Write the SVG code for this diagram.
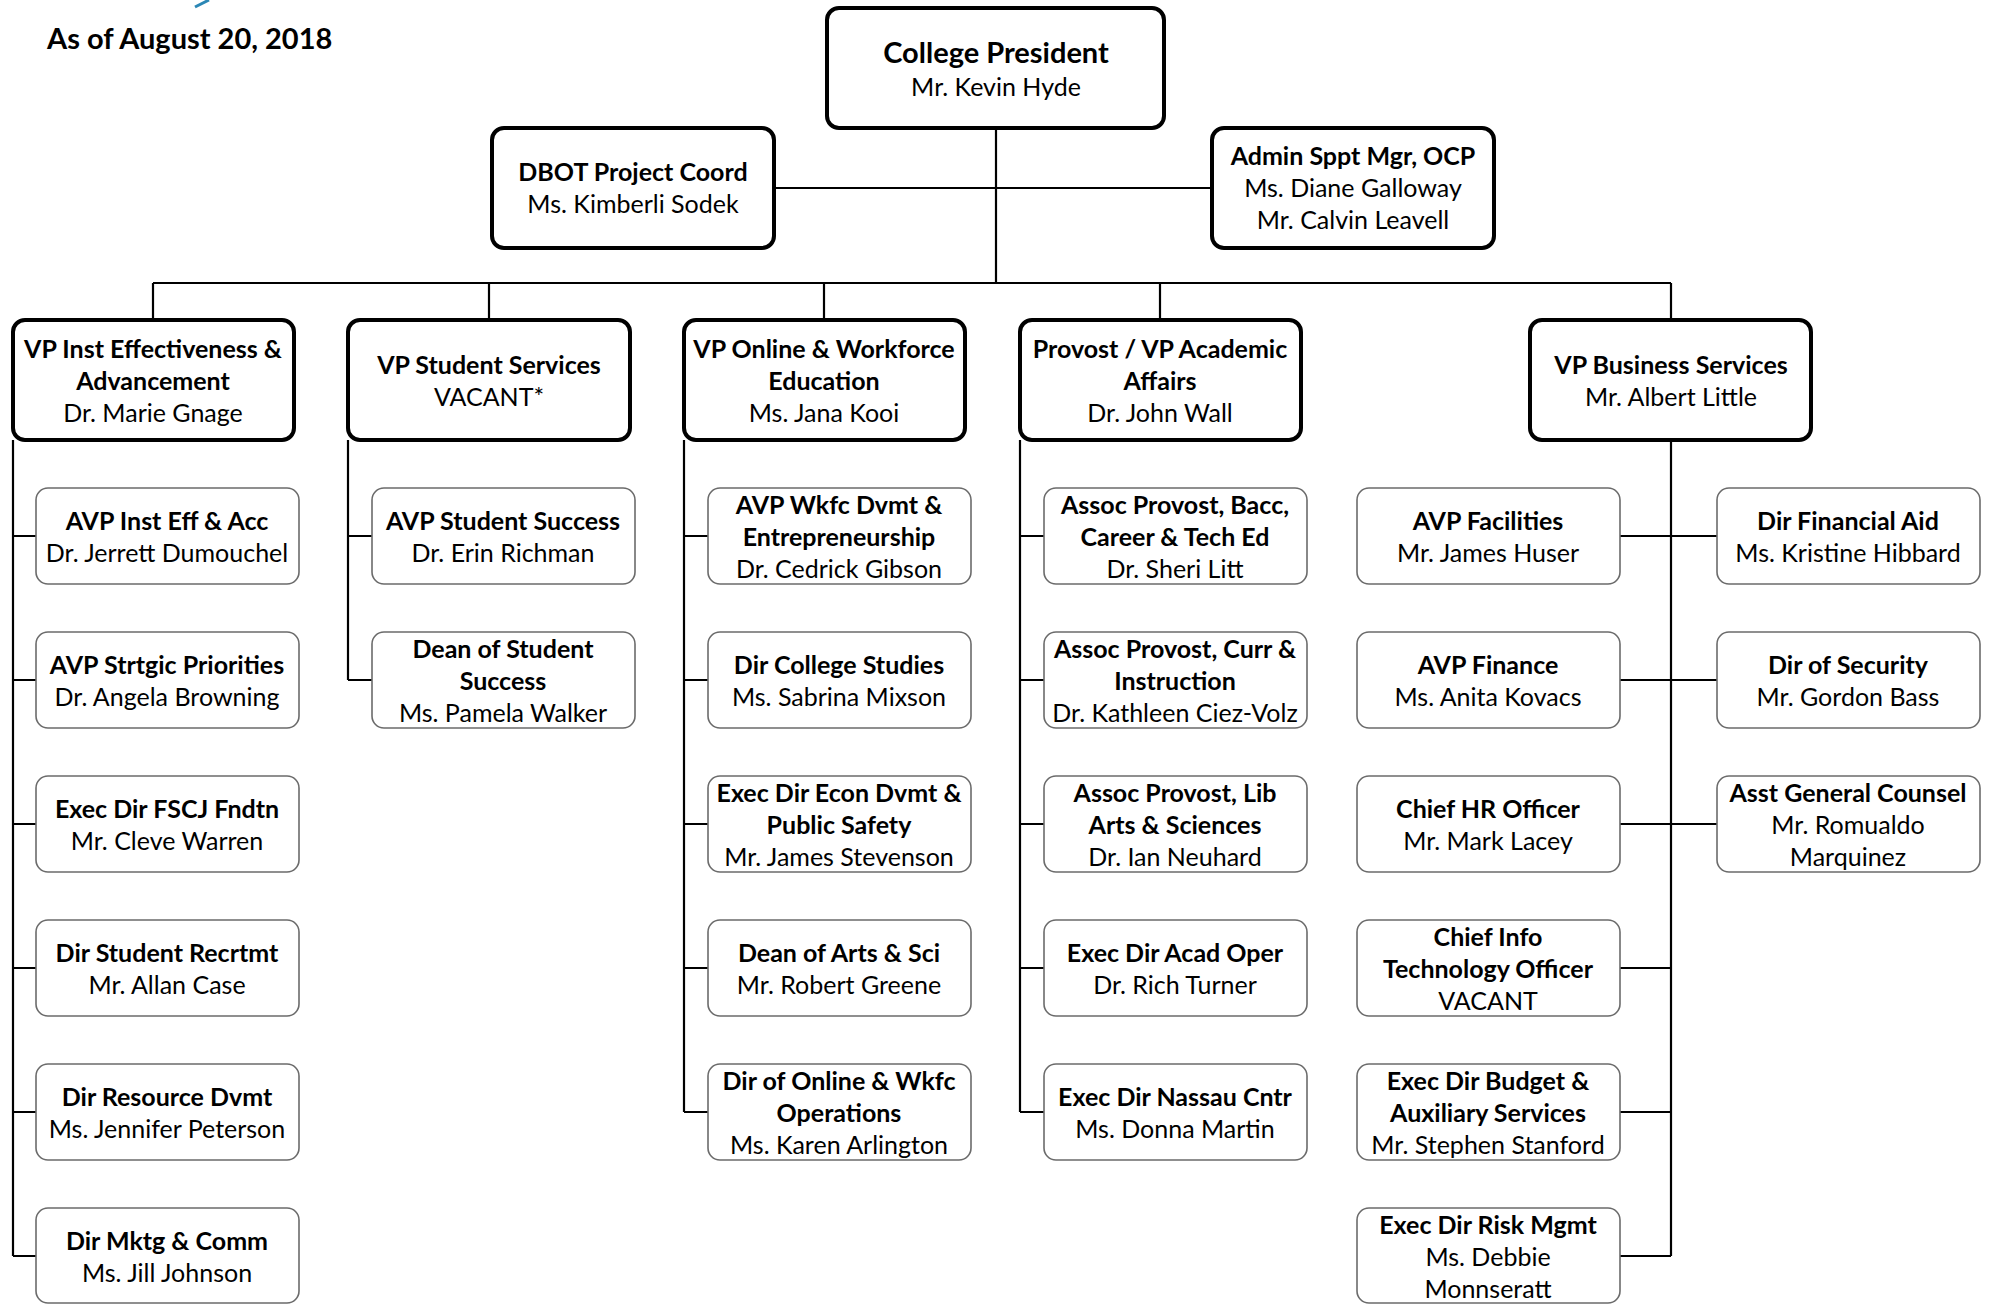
<svg xmlns="http://www.w3.org/2000/svg" width="1989" height="1304" viewBox="0 0 1989 1304">
<style>
.bg{fill:#fff}
.top{fill:#fff;stroke:#000;stroke-width:4}
.kid{fill:#fff;stroke:#6b6b6b;stroke-width:1.6}
.t{font-family:Lato,"Open Sans","Liberation Sans",sans-serif;font-size:25px;text-anchor:middle;fill:#000}
.b{font-weight:700}
.big{font-size:29px}
.ttl{font-family:Lato,"Open Sans","Liberation Sans",sans-serif;font-size:29px;font-weight:700;fill:#000}
.ln{stroke:#000;stroke-width:2.2;fill:none}
</style>
<rect class="bg" x="0" y="0" width="1989" height="1304"/>
<path d="M195 7 L209 0" stroke="#2b87b5" stroke-width="3" fill="none"/>
<text class="ttl" x="47" y="49">As of August 20, 2018</text>

<g id="connectors">
<path class="ln" d="M996 128 V283 M774 188 H1212 M153 283 H1671 M153 283 V320 M489 283 V320 M824 283 V320 M1160 283 V320 M1671 283 V320"/>
<path class="ln" d="M13 440 V1256 M13 536 H36 M13 680 H36 M13 824 H36 M13 968 H36 M13 1112 H36 M13 1256 H36"/>
<path class="ln" d="M348 440 V680 M348 536 H372 M348 680 H372"/>
<path class="ln" d="M684 440 V1112 M684 536 H708 M684 680 H708 M684 824 H708 M684 968 H708 M684 1112 H708"/>
<path class="ln" d="M1020 440 V1112 M1020 536 H1044 M1020 680 H1044 M1020 824 H1044 M1020 968 H1044 M1020 1112 H1044"/>
<path class="ln" d="M1671 440 V1256 M1620 536 H1717 M1620 680 H1717 M1620 824 H1717 M1620 968 H1671 M1620 1112 H1671 M1620 1256 H1671"/>
</g>

<g id="president"><rect class="top" x="827" y="8" width="337" height="120" rx="12"/>
<text class="t b big" x="996" y="63">College President</text>
<text class="t" x="996" y="96">Mr. Kevin Hyde</text></g>

<g id="dbot"><rect class="top" x="492" y="128" width="282" height="120" rx="12"/>
<text class="t b" x="633" y="181">DBOT Project Coord</text>
<text class="t" x="633" y="213">Ms. Kimberli Sodek</text></g>

<g id="admin"><rect class="top" x="1212" y="128" width="282" height="120" rx="12"/>
<text class="t b" x="1353" y="165">Admin Sppt Mgr, OCP</text>
<text class="t" x="1353" y="197">Ms. Diane Galloway</text>
<text class="t" x="1353" y="229">Mr. Calvin Leavell</text></g>

<g id="vp-inst"><rect class="top" x="13" y="320" width="281" height="120" rx="12"/>
<text class="t b" x="153" y="358">VP Inst Effectiveness &amp;</text>
<text class="t b" x="153" y="390">Advancement</text>
<text class="t" x="153" y="422">Dr. Marie Gnage</text></g>

<g id="vp-student"><rect class="top" x="348" y="320" width="282" height="120" rx="12"/>
<text class="t b" x="489" y="374">VP Student Services</text>
<text class="t" x="489" y="406">VACANT*</text></g>

<g id="vp-online"><rect class="top" x="684" y="320" width="281" height="120" rx="12"/>
<text class="t b" x="824" y="358">VP Online &amp; Workforce</text>
<text class="t b" x="824" y="390">Education</text>
<text class="t" x="824" y="422">Ms. Jana Kooi</text></g>

<g id="provost"><rect class="top" x="1020" y="320" width="281" height="120" rx="12"/>
<text class="t b" x="1160" y="358">Provost / VP Academic</text>
<text class="t b" x="1160" y="390">Affairs</text>
<text class="t" x="1160" y="422">Dr. John Wall</text></g>

<g id="vp-business"><rect class="top" x="1530" y="320" width="281" height="120" rx="12"/>
<text class="t b" x="1671" y="374">VP Business Services</text>
<text class="t" x="1671" y="406">Mr. Albert Little</text></g>

<!-- Column 1 -->
<g id="avp-inst-eff"><rect class="kid" x="36" y="488" width="263" height="96" rx="12"/>
<text class="t b" x="167" y="530">AVP Inst Eff &amp; Acc</text>
<text class="t" x="167" y="562">Dr. Jerrett Dumouchel</text></g>
<g id="avp-strtgic"><rect class="kid" x="36" y="632" width="263" height="96" rx="12"/>
<text class="t b" x="167" y="674">AVP Strtgic Priorities</text>
<text class="t" x="167" y="706">Dr. Angela Browning</text></g>
<g id="exec-fscj"><rect class="kid" x="36" y="776" width="263" height="96" rx="12"/>
<text class="t b" x="167" y="818">Exec Dir FSCJ Fndtn</text>
<text class="t" x="167" y="850">Mr. Cleve Warren</text></g>
<g id="dir-recrtmt"><rect class="kid" x="36" y="920" width="263" height="96" rx="12"/>
<text class="t b" x="167" y="962">Dir Student Recrtmt</text>
<text class="t" x="167" y="994">Mr. Allan Case</text></g>
<g id="dir-resource"><rect class="kid" x="36" y="1064" width="263" height="96" rx="12"/>
<text class="t b" x="167" y="1106">Dir Resource Dvmt</text>
<text class="t" x="167" y="1138">Ms. Jennifer Peterson</text></g>
<g id="dir-mktg"><rect class="kid" x="36" y="1208" width="263" height="95" rx="12"/>
<text class="t b" x="167" y="1250">Dir Mktg &amp; Comm</text>
<text class="t" x="167" y="1282">Ms. Jill Johnson</text></g>

<!-- Column 2 -->
<g id="avp-student-success"><rect class="kid" x="372" y="488" width="263" height="96" rx="12"/>
<text class="t b" x="503" y="530">AVP Student Success</text>
<text class="t" x="503" y="562">Dr. Erin Richman</text></g>
<g id="dean-student-success"><rect class="kid" x="372" y="632" width="263" height="96" rx="12"/>
<text class="t b" x="503" y="658">Dean of Student</text>
<text class="t b" x="503" y="690">Success</text>
<text class="t" x="503" y="722">Ms. Pamela Walker</text></g>

<!-- Column 3 -->
<g id="avp-wkfc"><rect class="kid" x="708" y="488" width="263" height="96" rx="12"/>
<text class="t b" x="839" y="514">AVP Wkfc Dvmt &amp;</text>
<text class="t b" x="839" y="546">Entrepreneurship</text>
<text class="t" x="839" y="578">Dr. Cedrick Gibson</text></g>
<g id="dir-college-studies"><rect class="kid" x="708" y="632" width="263" height="96" rx="12"/>
<text class="t b" x="839" y="674">Dir College Studies</text>
<text class="t" x="839" y="706">Ms. Sabrina Mixson</text></g>
<g id="exec-econ"><rect class="kid" x="708" y="776" width="263" height="96" rx="12"/>
<text class="t b" x="839" y="802">Exec Dir Econ Dvmt &amp;</text>
<text class="t b" x="839" y="834">Public Safety</text>
<text class="t" x="839" y="866">Mr. James Stevenson</text></g>
<g id="dean-arts"><rect class="kid" x="708" y="920" width="263" height="96" rx="12"/>
<text class="t b" x="839" y="962">Dean of Arts &amp; Sci</text>
<text class="t" x="839" y="994">Mr. Robert Greene</text></g>
<g id="dir-online-wkfc"><rect class="kid" x="708" y="1064" width="263" height="96" rx="12"/>
<text class="t b" x="839" y="1090">Dir of Online &amp; Wkfc</text>
<text class="t b" x="839" y="1122">Operations</text>
<text class="t" x="839" y="1154">Ms. Karen Arlington</text></g>

<!-- Column 4 -->
<g id="assoc-bacc"><rect class="kid" x="1044" y="488" width="263" height="96" rx="12"/>
<text class="t b" x="1175" y="514">Assoc Provost, Bacc,</text>
<text class="t b" x="1175" y="546">Career &amp; Tech Ed</text>
<text class="t" x="1175" y="578">Dr. Sheri Litt</text></g>
<g id="assoc-curr"><rect class="kid" x="1044" y="632" width="263" height="96" rx="12"/>
<text class="t b" x="1175" y="658">Assoc Provost, Curr &amp;</text>
<text class="t b" x="1175" y="690">Instruction</text>
<text class="t" x="1175" y="722">Dr. Kathleen Ciez-Volz</text></g>
<g id="assoc-lib"><rect class="kid" x="1044" y="776" width="263" height="96" rx="12"/>
<text class="t b" x="1175" y="802">Assoc Provost, Lib</text>
<text class="t b" x="1175" y="834">Arts &amp; Sciences</text>
<text class="t" x="1175" y="866">Dr. Ian Neuhard</text></g>
<g id="exec-acad"><rect class="kid" x="1044" y="920" width="263" height="96" rx="12"/>
<text class="t b" x="1175" y="962">Exec Dir Acad Oper</text>
<text class="t" x="1175" y="994">Dr. Rich Turner</text></g>
<g id="exec-nassau"><rect class="kid" x="1044" y="1064" width="263" height="96" rx="12"/>
<text class="t b" x="1175" y="1106">Exec Dir Nassau Cntr</text>
<text class="t" x="1175" y="1138">Ms. Donna Martin</text></g>

<!-- Column 5 left -->
<g id="avp-facilities"><rect class="kid" x="1357" y="488" width="263" height="96" rx="12"/>
<text class="t b" x="1488" y="530">AVP Facilities</text>
<text class="t" x="1488" y="562">Mr. James Huser</text></g>
<g id="avp-finance"><rect class="kid" x="1357" y="632" width="263" height="96" rx="12"/>
<text class="t b" x="1488" y="674">AVP Finance</text>
<text class="t" x="1488" y="706">Ms. Anita Kovacs</text></g>
<g id="chief-hr"><rect class="kid" x="1357" y="776" width="263" height="96" rx="12"/>
<text class="t b" x="1488" y="818">Chief HR Officer</text>
<text class="t" x="1488" y="850">Mr. Mark Lacey</text></g>
<g id="chief-it"><rect class="kid" x="1357" y="920" width="263" height="96" rx="12"/>
<text class="t b" x="1488" y="946">Chief Info</text>
<text class="t b" x="1488" y="978">Technology Officer</text>
<text class="t" x="1488" y="1010">VACANT</text></g>
<g id="exec-budget"><rect class="kid" x="1357" y="1064" width="263" height="96" rx="12"/>
<text class="t b" x="1488" y="1090">Exec Dir Budget &amp;</text>
<text class="t b" x="1488" y="1122">Auxiliary Services</text>
<text class="t" x="1488" y="1154">Mr. Stephen Stanford</text></g>
<g id="exec-risk"><rect class="kid" x="1357" y="1208" width="263" height="95" rx="12"/>
<text class="t b" x="1488" y="1234">Exec Dir Risk Mgmt</text>
<text class="t" x="1488" y="1266">Ms. Debbie</text>
<text class="t" x="1488" y="1298">Monnseratt</text></g>

<!-- Column 5 right -->
<g id="dir-fin-aid"><rect class="kid" x="1717" y="488" width="263" height="96" rx="12"/>
<text class="t b" x="1848" y="530">Dir Financial Aid</text>
<text class="t" x="1848" y="562">Ms. Kristine Hibbard</text></g>
<g id="dir-security"><rect class="kid" x="1717" y="632" width="263" height="96" rx="12"/>
<text class="t b" x="1848" y="674">Dir of Security</text>
<text class="t" x="1848" y="706">Mr. Gordon Bass</text></g>
<g id="asst-counsel"><rect class="kid" x="1717" y="776" width="263" height="96" rx="12"/>
<text class="t b" x="1848" y="802">Asst General Counsel</text>
<text class="t" x="1848" y="834">Mr. Romualdo</text>
<text class="t" x="1848" y="866">Marquinez</text></g>
</svg>
